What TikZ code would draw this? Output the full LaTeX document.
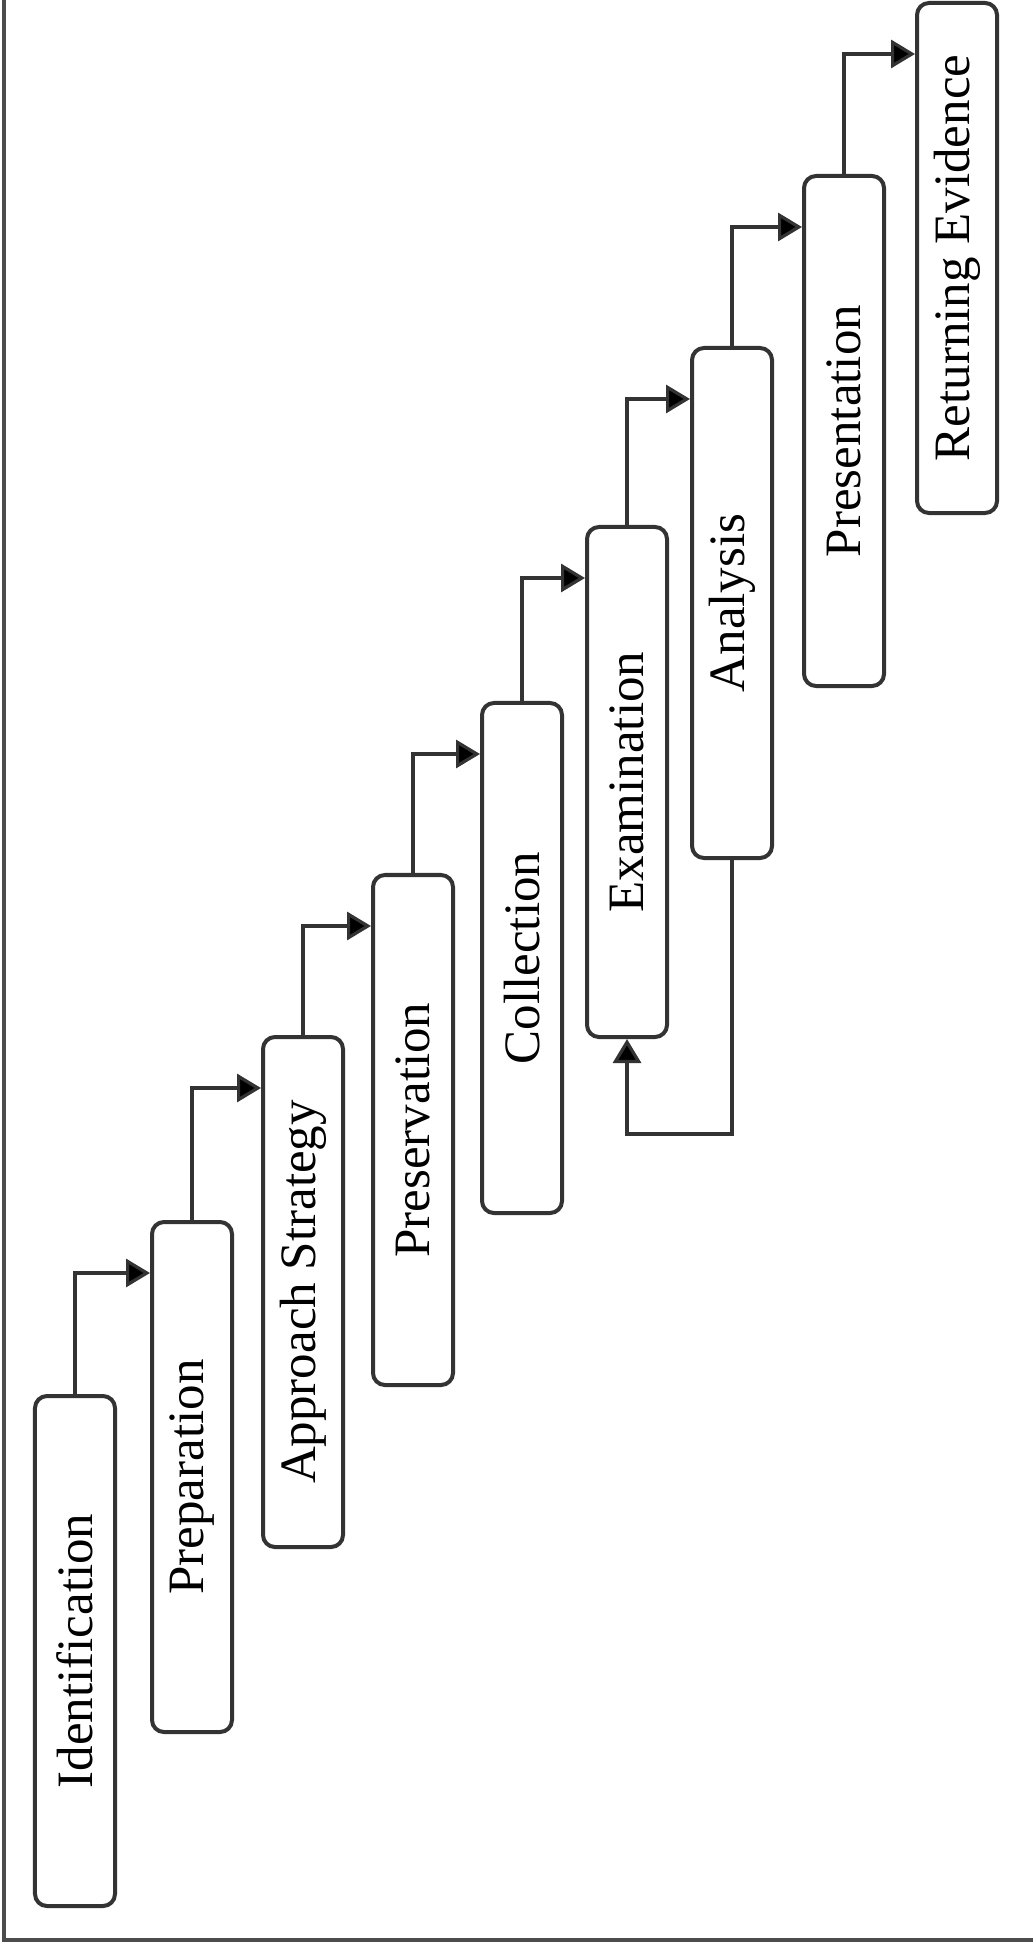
\documentclass[tikz,border=0pt]{standalone}
\usepackage{fontspec}
\setmainfont{Liberation Serif}
\usetikzlibrary{arrows.meta}
\begin{document}
\begin{tikzpicture}[x=0.5bp, y=-0.5bp,
  stage/.style={draw=black!80, line width=2bp, rounded corners=6bp, fill=white,
    minimum width=40bp, minimum height=255bp, inner sep=0pt,
    font=\fontsize{25.5bp}{30bp}\selectfont},
  flow/.style={draw=black!80, line width=1.6bp,
    -{Triangle[length=12bp, width=14bp, fill=black]}}]
\useasboundingbox (0,0) rectangle (1033,1945);
% outer frame
\draw[black!70, line width=1.6bp] (4,0) -- (4,1940) -- (1033,1940);
% process stages (centre = left + 40, top + 255)
\node[stage] (idf)  at (75,1651) {\rotatebox{90}{Identification}};
\node[stage] (prep) at (192,1477) {\rotatebox{90}{Preparation}};
\node[stage] (appr) at (303,1292) {\rotatebox{90}{Approach Strategy}};
\node[stage] (pres) at (413,1130) {\rotatebox{90}{Preservation}};
\node[stage] (coll) at (522,958) {\rotatebox{90}{Collection}};
\node[stage] (exam) at (627,782) {\rotatebox{90}{Examination}};
\node[stage] (anal) at (732,603) {\rotatebox{90}{Analysis}};
\node[stage] (pstn) at (844,431) {\rotatebox{90}{Presentation}};
\node[stage] (ret)  at (957,258) {\rotatebox{90}{Returning Evidence}};
% stage-to-stage connectors
\draw[flow] (idf.north)  |- ([yshift=-26.5bp]prep.north west);
\draw[flow] (prep.north) |- ([yshift=-26.5bp]appr.north west);
\draw[flow] (appr.north) |- ([yshift=-26.5bp]pres.north west);
\draw[flow] (pres.north) |- ([yshift=-26.5bp]coll.north west);
\draw[flow] (coll.north) |- ([yshift=-26.5bp]exam.north west);
\draw[flow] (exam.north) |- ([yshift=-26.5bp]anal.north west);
\draw[flow] (anal.north) |- ([yshift=-26.5bp]pstn.north west);
\draw[flow] (pstn.north) |- ([yshift=-26.5bp]ret.north west);
% loop back from analysis to examination
\coordinate (loop) at ([yshift=-137bp]anal.south);
\draw[flow] (anal.south) -- (loop) -| (exam.south);
\end{tikzpicture}
\end{document}
